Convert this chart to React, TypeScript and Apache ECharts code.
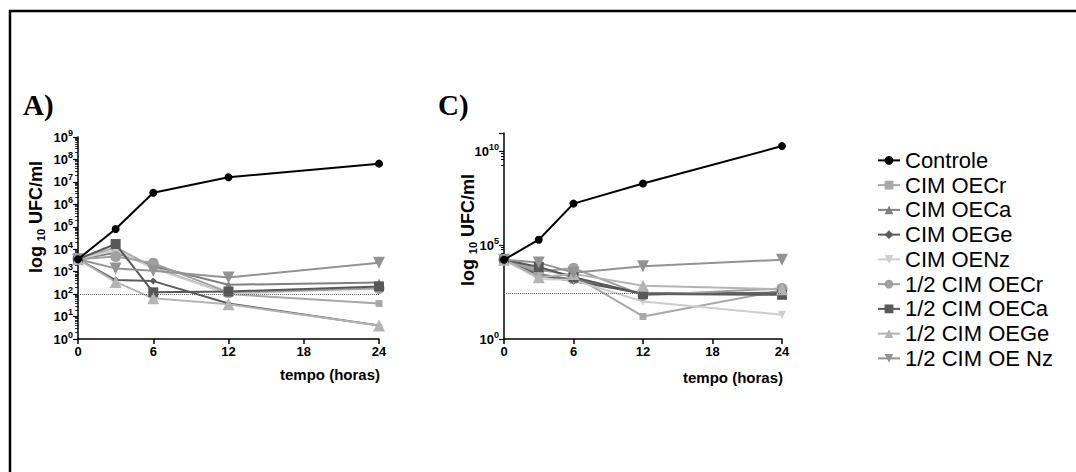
import React, { useEffect, useRef } from "react";
import * as echarts from "echarts";

// ---- data ----
const hours = [0, 3, 6, 12, 24];
const seriesNames = [
  "Controle",
  "CIM OECr",
  "CIM OECa",
  "CIM OEGe",
  "CIM OENz",
  "1/2 CIM OECr",
  "1/2 CIM OECa",
  "1/2 CIM OEGe",
  "1/2 CIM OE Nz",
];

// Panel A (log10 UFC/ml)
const aControle = [3600, 80000, 3300000, 16000000, 65000000];
const aCimOECr = [3600, 12000, 1600, 100, 38];
const aCimOECa = [3600, 7000, 1800, 260, 330];
const aCimOEGe = [3600, 420, 380, 38, 4];
const aCimOENz = [3600, 9000, 1400, 100, 200];
const aHalfOECr = [3600, 4700, 2400, 120, 180];
const aHalfOECa = [3600, 17000, 120, 130, 220];
const aHalfOEGe = [3600, 350, 65, 35, 4];
const aHalfOENz = [3600, 1400, 1100, 550, 2500];
const aLimit = 100;

// Panel C
const cControle = [17000, 200000, 17000000, 200000000, 20000000000];
const cCimOECr = [17000, 5000, 2500, 16, 400];
const cCimOECa = [17000, 3000, 1500, 250, 300];
const cCimOEGe = [17000, 2500, 1200, 280, 280];
const cCimOENz = [17000, 1600, 1400, 100, 20];
const cHalfOECr = [17000, 4000, 6000, 220, 500];
const cHalfOECa = [17000, 7000, 2000, 250, 230];
const cHalfOEGe = [17000, 2000, 3000, 700, 450];
const cHalfOENz = [17000, 12000, 3500, 7600, 17000];
const cLimit = 290;

const panelA = [aControle, aCimOECr, aCimOECa, aCimOEGe, aCimOENz, aHalfOECr, aHalfOECa, aHalfOEGe, aHalfOENz];
const panelC = [cControle, cCimOECr, cCimOECa, cCimOEGe, cCimOENz, cHalfOECr, cHalfOECa, cHalfOEGe, cHalfOENz];

// ---- styles ----
const styles = [
  { color: "#000000", symbol: "circle", size: 8, rot: 0 },
  { color: "#a8a8a8", symbol: "rect", size: 7, rot: 0 },
  { color: "#808080", symbol: "triangle", size: 8, rot: 0 },
  { color: "#5c5c5c", symbol: "diamond", size: 7, rot: 0 },
  { color: "#cdcdcd", symbol: "triangle", size: 8, rot: 180 },
  { color: "#a0a0a0", symbol: "circle", size: 11, rot: 0 },
  { color: "#585858", symbol: "rect", size: 10, rot: 0 },
  { color: "#b4b4b4", symbol: "triangle", size: 12, rot: 0 },
  { color: "#939393", symbol: "triangle", size: 12, rot: 180 },
];

const FONT = "Liberation Sans, Arial, sans-serif";

function yLabel(maxExp: number) {
  return {
    fontFamily: FONT,
    margin: 5,
    formatter: (v: number) => {
      const e = Math.round(Math.log10(v));
      if (e > maxExp) return "";
      return `{b|10}{s|${e}}`;
    },
    rich: {
      b: { fontSize: 13, fontWeight: "bold", color: "#000", fontFamily: FONT, lineHeight: 18, verticalAlign: "middle" },
      s: { fontSize: 9, fontWeight: "bold", color: "#000", fontFamily: FONT, lineHeight: 18, verticalAlign: "top" },
    },
  };
}

function xAxisCfg(gridIndex: number) {
  return {
    type: "value",
    gridIndex,
    min: 0,
    max: 24,
    interval: 6,
    axisLine: { show: true, lineStyle: { color: "#000", width: 1.5 } },
    axisTick: { show: true, length: 5, lineStyle: { color: "#000", width: 1.5 } },
    axisLabel: { fontFamily: FONT, fontSize: 13, fontWeight: "bold", color: "#000", margin: 6 },
    splitLine: { show: false },
  };
}

function buildSeries(panel: number[][], idx: number, limit: number) {
  return panel.map((vals, i) => {
    const st = styles[i];
    const s: any = {
      name: seriesNames[i],
      type: "line",
      xAxisIndex: idx,
      yAxisIndex: idx,
      data: hours.map((h, k) => [h, vals[k]]),
      symbol: st.symbol,
      symbolSize: st.size,
      symbolRotate: st.rot,
      showAllSymbol: true,
      lineStyle: { color: st.color, width: 2 },
      itemStyle: { color: st.color },
      z: i === 0 ? 5 : 3,
    };
    if (i === 0) {
      s.markLine = {
        silent: true,
        symbol: "none",
        label: { show: false },
        lineStyle: { type: "dotted", color: "#666", width: 1 },
        data: [{ yAxis: limit }],
      };
    }
    return s;
  });
}

function yTitle(x: number, y: number) {
  return {
    type: "text",
    x,
    y,
    rotation: Math.PI / 2,
    style: {
      text: "{a|log }{b|10}{a| UFC/ml}",
      align: "center",
      verticalAlign: "middle",
      rich: {
        a: { fontSize: 18, fontWeight: "bold", fontFamily: FONT, fill: "#000", lineHeight: 20, verticalAlign: "middle" },
        b: { fontSize: 11, fontWeight: "bold", fontFamily: FONT, fill: "#000", lineHeight: 20, verticalAlign: "bottom" },
      },
    },
  };
}

export default function App() {
  const ref = useRef<HTMLDivElement>(null);
  useEffect(() => {
    if (!ref.current) return;
    const chart = echarts.init(ref.current, null, { renderer: "svg" });
    const option: any = {
      animation: false,
      backgroundColor: "#fff",
      grid: [
        { left: 78, top: 137, width: 301, height: 202 },
        { left: 504, top: 133, width: 278, height: 206 },
      ],
      xAxis: [xAxisCfg(0), xAxisCfg(1)],
      yAxis: [
        {
          type: "log",
          gridIndex: 0,
          logBase: 10,
          min: 1,
          max: 1e9,
          interval: 1,
          axisLine: { show: true, lineStyle: { color: "#000", width: 1.5 } },
          axisTick: { show: true, length: 5, lineStyle: { color: "#000", width: 1.2 } },
          minorTick: { show: true, splitNumber: 9, length: 3, lineStyle: { color: "#000", width: 0.8 } },
          splitLine: { show: false },
          axisLabel: yLabel(9),
        },
        {
          type: "log",
          gridIndex: 1,
          logBase: 10,
          min: 1,
          max: 1e11,
          interval: 5,
          axisLine: { show: true, lineStyle: { color: "#000", width: 1.5 } },
          axisTick: { show: true, length: 5, lineStyle: { color: "#000", width: 1.2 } },
          minorTick: { show: true, splitNumber: 5, length: 3, lineStyle: { color: "#000", width: 1 } },
          splitLine: { show: false },
          axisLabel: yLabel(10),
        },
      ],
      legend: {
        orient: "vertical",
        left: 872,
        top: 143,
        itemWidth: 22,
        itemHeight: 11,
        itemGap: 0,
        data: seriesNames,
        textStyle: { fontFamily: FONT, fontSize: 22, color: "#000", lineHeight: 24.75 },
      },
      graphic: [
        { type: "line", shape: { x1: 9, y1: 11, x2: 1076, y2: 11 }, style: { stroke: "#000", lineWidth: 2.5 } },
        { type: "line", shape: { x1: 10, y1: 10, x2: 10, y2: 472 }, style: { stroke: "#000", lineWidth: 2.5 } },
        { type: "text", x: 23, y: 105, style: { text: "A)", fontFamily: "Liberation Serif, Times New Roman, serif", fontWeight: "bold", fontSize: 29, fill: "#000", verticalAlign: "middle" } },
        { type: "text", x: 438, y: 105, style: { text: "C)", fontFamily: "Liberation Serif, Times New Roman, serif", fontWeight: "bold", fontSize: 29, fill: "#000", verticalAlign: "middle" } },
        yTitle(36, 217),
        yTitle(468, 230),
        { type: "text", x: 380, y: 374, style: { text: "tempo (horas)", align: "right", verticalAlign: "middle", fontFamily: FONT, fontWeight: "bold", fontSize: 15, fill: "#000" } },
        { type: "text", x: 783, y: 377, style: { text: "tempo (horas)", align: "right", verticalAlign: "middle", fontFamily: FONT, fontWeight: "bold", fontSize: 15, fill: "#000" } },
      ],
      series: [...buildSeries(panelA, 0, aLimit), ...buildSeries(panelC, 1, cLimit)],
    };
    chart.setOption(option);
    return () => chart.dispose();
  }, []);
  return (
    <div
      ref={ref}
      style={{ position: "absolute", left: 0, top: 0, width: 1076, height: 472, background: "#fff" }}
    />
  );
}
